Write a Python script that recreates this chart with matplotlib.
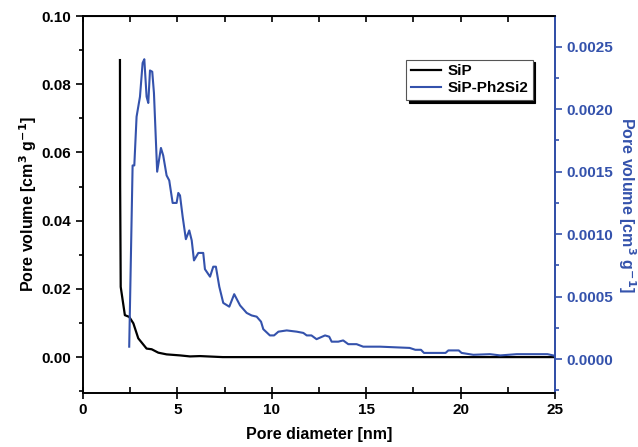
import matplotlib as mpl
mpl.use('Agg')
import matplotlib.pyplot as plt
from matplotlib.ticker import MultipleLocator

plt.rcParams['font.family'] = ['Liberation Sans', 'DejaVu Sans']
plt.rcParams['font.weight'] = 'bold'
plt.rcParams['mathtext.default'] = 'bf'

# SiP (left axis)
sip_d = [1.96, 1.97, 2.0, 2.22, 2.45, 2.67, 2.93, 3.37, 3.64, 3.99, 4.43, 5.14,
         5.67, 6.2, 7.4, 10.0, 15.0, 20.0, 25.0]
sip_v = [0.0871, 0.050, 0.0206, 0.0123, 0.0118, 0.0099, 0.0055, 0.0025, 0.0023,
         0.0013, 0.0008, 0.0005, 0.0002, 0.0003, 0.0, 0.0, 0.0, 0.0, 0.0]

# SiP-Ph2Si2 (right axis)
ph_d = [2.45, 2.63, 2.72, 2.84, 3.02, 3.16, 3.25, 3.37, 3.46, 3.55, 3.67, 3.76,
        3.93, 4.13, 4.25, 4.43, 4.57, 4.75, 4.96, 5.05, 5.14, 5.28, 5.45, 5.63,
        5.76, 5.88, 6.11, 6.37, 6.46, 6.73, 6.9, 7.04, 7.22, 7.43, 7.75, 8.01,
        8.32, 8.67, 8.93, 9.2, 9.43, 9.55, 9.9, 10.12, 10.35, 10.79, 11.32, 11.67,
        11.85, 12.1, 12.37, 12.82, 13.04, 13.17, 13.52, 13.78, 14.05, 14.49, 14.84,
        15.73, 17.3, 17.6, 17.9, 18.06, 19.2, 19.35, 19.9, 20.05, 20.67, 21.55,
        22.1, 22.97, 24.6, 24.9]
ph_v = [0.00010, 0.00155, 0.00155, 0.00194, 0.00210, 0.00237, 0.00240, 0.00210,
        0.00205, 0.00231, 0.00230, 0.00213, 0.00150, 0.00169, 0.00163, 0.00147,
        0.00143, 0.00125, 0.00125, 0.00133, 0.00131, 0.00114, 0.00096, 0.00103,
        0.00095, 0.00079, 0.00085, 0.00085, 0.00072, 0.00066, 0.00074, 0.00074,
        0.00058, 0.00045, 0.00042, 0.00052, 0.00043, 0.00037, 0.00035, 0.00034,
        0.00030, 0.00024, 0.00019, 0.00019, 0.00022, 0.00023, 0.00022, 0.00021,
        0.00019, 0.00019, 0.00016, 0.00019, 0.00018, 0.00014, 0.00014, 0.00015,
        0.00012, 0.00012, 0.00010, 0.00010, 0.00009, 0.000075, 0.000075, 0.00005,
        0.00005, 0.00007, 0.00007, 0.00005, 0.000035, 0.00004, 0.00003, 0.00004,
        0.00004, 0.00003]

blue = '#3452AC'

fig = plt.figure(figsize=(6.38, 4.47), dpi=100)
ax = fig.add_axes([0.130, 0.121, 0.740, 0.843])
ax2 = ax.twinx()

l1, = ax.plot(sip_d, sip_v, color='black', lw=1.6, label='SiP')
l2, = ax2.plot(ph_d, ph_v, color=blue, lw=1.5, label='SiP-Ph2Si2')

ax.set_xlim(0, 25)
ax.set_ylim(-0.0105, 0.10)
ax2.set_ylim(-0.00027, 0.002745)

ax.xaxis.set_major_locator(MultipleLocator(5))
ax.xaxis.set_minor_locator(MultipleLocator(2.5))
ax.yaxis.set_major_locator(MultipleLocator(0.02))
ax.yaxis.set_minor_locator(MultipleLocator(0.01))
ax2.yaxis.set_major_locator(MultipleLocator(0.0005))
ax2.yaxis.set_minor_locator(MultipleLocator(0.00025))
ax.yaxis.set_major_formatter(plt.FormatStrFormatter('%.2f'))
ax2.yaxis.set_major_formatter(plt.FormatStrFormatter('%.4f'))

ax.tick_params(axis='x', which='major', direction='inout', length=8, width=1.2,
               labelsize=11, top=False)
ax.tick_params(axis='x', which='minor', direction='in', length=4, width=1.2, top=False)
ax.tick_params(axis='y', which='major', direction='out', length=5, width=1.2, labelsize=11)
ax.tick_params(axis='y', which='minor', direction='out', length=3, width=1.2)
ax2.tick_params(axis='y', which='major', direction='out', length=5, width=1.2,
                labelsize=11, colors=blue)
ax2.tick_params(axis='y', which='minor', direction='out', length=3, width=1.2, colors=blue)

# top ticks every 2.5 pointing inward
top = ax.secondary_xaxis('top')
top.xaxis.set_major_locator(MultipleLocator(2.5))
top.tick_params(direction='in', length=4, width=1.2, labeltop=False)

for s in ax.spines.values():
    s.set_linewidth(1.2)
for s in ax2.spines.values():
    s.set_linewidth(1.2)
ax2.spines['right'].set_color(blue)
ax2.spines['right'].set_linewidth(1.4)

ax.set_xlabel('Pore diameter [nm]', fontsize=11.5, fontweight='bold', labelpad=7)
ax.set_ylabel('Pore volume [cm$^3$ g$^{-1}$]', fontsize=11.5, fontweight='bold',
              labelpad=2)
ax2.set_ylabel('Pore volume [cm$^3$ g$^{-1}$]', fontsize=11.5, fontweight='bold',
               color=blue, rotation=270, labelpad=17)

leg = ax.legend(handles=[l1, l2], loc='upper left', bbox_to_anchor=(0.668, 0.905),
                fancybox=False, shadow={'color': 'black', 'alpha': 1},
                fontsize=11, handlelength=2.0, handletextpad=0.4,
                borderpad=0.3, labelspacing=0.2, framealpha=1, edgecolor='#555555')
leg.get_frame().set_linewidth(0.8)

plt.savefig('out.png', dpi=100)
